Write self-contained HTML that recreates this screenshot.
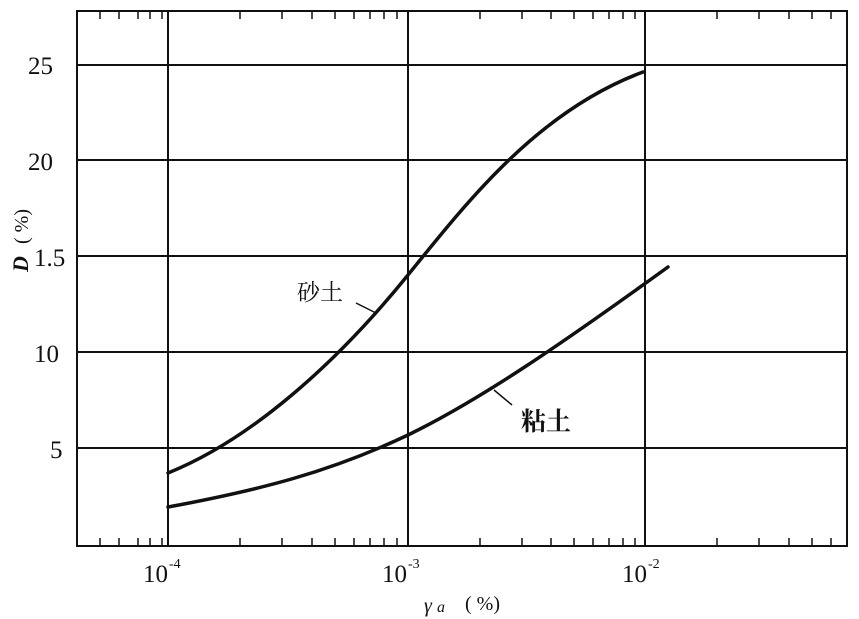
<!DOCTYPE html>
<html><head><meta charset="utf-8"><style>
html,body{margin:0;padding:0;background:#fff;width:859px;height:619px;overflow:hidden}
text{font-family:"Liberation Serif","Noto Serif CJK SC",serif;fill:#111}
</style></head><body>
<svg width="859" height="619" viewBox="0 0 859 619" xmlns="http://www.w3.org/2000/svg">
<g stroke="#111" fill="none">
<rect x="77" y="11" width="770" height="535" stroke-width="2"/>
<g stroke-width="2">
<line x1="168" y1="11" x2="168" y2="546"/>
<line x1="408" y1="11" x2="408" y2="546"/>
<line x1="645" y1="11" x2="645" y2="546"/>
<line x1="77" y1="65" x2="847" y2="65"/>
<line x1="77" y1="160" x2="847" y2="160"/>
<line x1="77" y1="256" x2="847" y2="256"/>
<line x1="77" y1="352" x2="847" y2="352"/>
<line x1="77" y1="448" x2="847" y2="448"/>
</g>
<g stroke-width="1.5">
<path d="M100 546v-8M119 546v-8M138 546v-8M150 546v-8M162 546v-8
M240 546v-8M282 546v-8M312 546v-8M335 546v-8M354 546v-8M370 546v-8M384 546v-8M397 546v-8
M480 546v-8M522 546v-8M551 546v-8M574 546v-8M593 546v-8M609 546v-8M623 546v-8M635 546v-8
M717 546v-8M759 546v-8M789 546v-8M812 546v-8M831 546v-8
M100 11v8M119 11v8M138 11v8M150 11v8M162 11v8
M240 11v8M282 11v8M312 11v8M335 11v8M354 11v8M370 11v8M384 11v8M397 11v8
M480 11v8M522 11v8M551 11v8M574 11v8M593 11v8M609 11v8M623 11v8M635 11v8
M717 11v8M759 11v8M789 11v8M812 11v8M831 11v8"/>
</g>
<path stroke-width="3.5" stroke-linecap="round" d="M168,473 C250,440 335,365 408,275 C470,198 540,110 643,72"/>
<path stroke-width="3.5" stroke-linecap="round" d="M168,507 C260,490 330,472 408,435 C480,400 560,345 668,267"/>
<line x1="356" y1="303" x2="376" y2="313" stroke-width="1.5"/>
<line x1="494" y1="390" x2="512" y2="405" stroke-width="1.5"/>
</g>
<g font-size="25">
<text x="28" y="74">25</text>
<text x="28" y="170">20</text>
<text x="34" y="266">1.5</text>
<text x="34" y="362">10</text>
<text x="50" y="458">5</text>
<text x="143" y="582">10</text><text x="169" y="568" font-size="14">-4</text>
<text x="382" y="582">10</text><text x="408" y="568" font-size="14">-3</text>
<text x="622" y="582">10</text><text x="648" y="568" font-size="14">-2</text>
<text x="424" y="612" font-style="italic" font-size="20">γ</text>
<text x="437" y="612" font-style="italic" font-size="16">a</text>
<text x="465" y="610" font-size="20">( %)</text>
<text x="297" y="300" font-size="23">砂土</text>
<text x="521" y="430" font-size="25" font-weight="bold">粘土</text>
</g>
<g transform="translate(28,272) rotate(-90)">
<text x="0" y="0" font-size="22" font-style="italic" font-weight="bold">D</text>
<text x="28" y="0" font-size="20">( %)</text>
</g>
</svg>
</body></html>
